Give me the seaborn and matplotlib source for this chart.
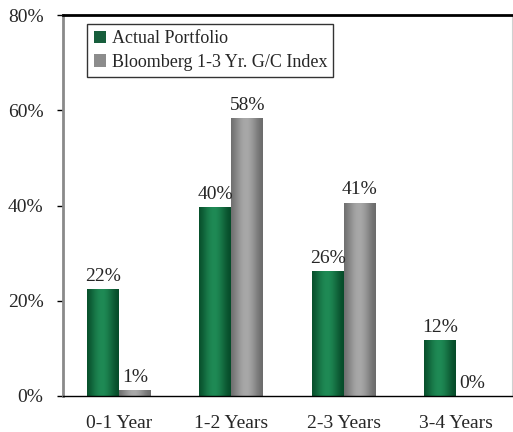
import matplotlib
matplotlib.use("Agg")
import matplotlib.pyplot as plt
import numpy as np
import pandas as pd
import seaborn as sns

# Datos
periodos = ["0-1 Year", "1-2 Years", "2-3 Years", "3-4 Years"]
actual = [22.4, 39.6, 26.2, 11.8]
bloomberg = [1.2, 58.3, 40.6, 0.0]
series = ["Actual Portfolio", "Bloomberg 1-3 Yr. G/C Index"]

df = pd.DataFrame({
    "Periodo": periodos * 2,
    "Serie": [series[0]] * 4 + [series[1]] * 4,
    "Valor": actual + bloomberg,
})

sns.set_theme(style="white")
plt.rcParams["font.family"] = ["Liberation Serif", "DejaVu Serif"]

verde = "#0b6a3c"
gris = "#8c8c8c"

fig = plt.figure(figsize=(5.13, 4.32), dpi=100)
ax = fig.add_axes([63 / 513, 36 / 432, 449 / 513, 381 / 432])

sns.barplot(data=df, x="Periodo", y="Valor", hue="Serie", palette=[verde, gris],
            width=0.57, edgecolor="none", linewidth=0, ax=ax)

# Sombreado cilindrico de las barras
def degradado(base, claro):
    c0 = np.array(matplotlib.colors.to_rgb(base))
    c1 = np.array(matplotlib.colors.to_rgb(claro))
    t = np.linspace(0, 1, 64)
    w = np.sin(np.pi * (t * 0.85 + 0.1)) ** 2
    return (c0[None, :] * (1 - w[:, None]) + c1[None, :] * w[:, None])[None, :, :]

grad_verde = degradado("#064a28", "#1f8a55")
grad_gris = degradado("#6a6a6a", "#a8a8a8")

for cont, grad in zip(ax.containers, [grad_verde, grad_gris]):
    for p in cont:
        h = p.get_height()
        if h <= 0:
            continue
        x0 = p.get_x()
        w = p.get_width()
        im = ax.imshow(grad, extent=[x0, x0 + w, 0, h], aspect="auto",
                       origin="lower", zorder=p.get_zorder() + 0.1)
        im.set_clip_path(p)

for cont in ax.containers:
    ax.bar_label(cont, labels=[f"{v:.0f}%" for v in cont.datavalues],
                 padding=3, fontsize=14)

ax.set_xlim(-0.5, 3.5)
ax.set_ylim(0, 80)
ax.set_yticks([0, 20, 40, 60, 80])
ax.set_yticklabels([f"{v}%" for v in [0, 20, 40, 60, 80]], fontsize=14)
ax.set_xticks(range(4))
ax.set_xticklabels(periodos, fontsize=14)
ax.set_xticks([0.5, 1.5, 2.5], minor=True)
ax.tick_params(axis="x", which="major", length=0, pad=14)
ax.tick_params(axis="x", which="minor", length=4.5, width=1, color="black", direction="out")
ax.tick_params(axis="y", length=4, width=1, color="black", direction="out",
               left=True, pad=10)
ax.set_xlabel("")
ax.set_ylabel("")

ax.spines["left"].set_color("#8a8a8a")
ax.spines["left"].set_linewidth(2)
ax.spines["top"].set_color("black")
ax.spines["top"].set_linewidth(2)
ax.spines["bottom"].set_color("black")
ax.spines["bottom"].set_linewidth(1)
ax.spines["right"].set_color("#d0d0d0")
ax.spines["right"].set_linewidth(0.8)

leg = ax.legend(loc="upper left", bbox_to_anchor=(0.054, 0.976), borderaxespad=0,
                frameon=True, fancybox=False, fontsize=13, handlelength=0.7,
                handleheight=0.7, handletextpad=0.3, borderpad=0.35,
                labelspacing=0.35, title=None)
leg.get_frame().set_edgecolor("black")
leg.get_frame().set_linewidth(1)

fig.savefig("out.png", dpi=100)
